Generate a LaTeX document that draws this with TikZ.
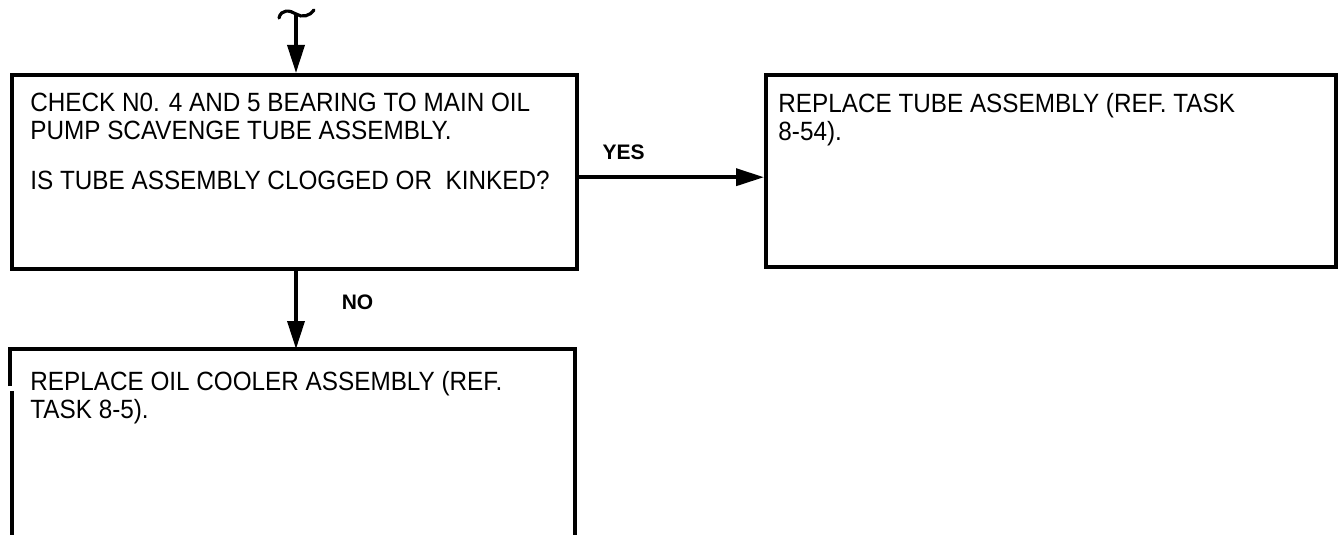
\documentclass[tikz,border=0pt]{standalone}
\usepackage{fontspec}
\setmainfont{Liberation Sans}[FakeStretch=0.92]
\newfontfamily\labelfont{Liberation Sans}
\usetikzlibrary{arrows.meta,calc,positioning}

\tikzset{
  flowbox/.style={draw, line width=2.2pt, inner sep=0pt, anchor=north west},
  boxtext/.style={anchor=north west, align=left, inner sep=0pt,
    font=\fontsize{13.2}{14}\selectfont},
  flowarrow/.style={line width=1.8pt, -{Triangle[length=14pt,width=8.5pt]}},
  answer/.style={font=\labelfont\bfseries\fontsize{10.5}{12}\selectfont, inner sep=0pt},
  boxline/.style={line width=2.2pt}
}

\begin{document}
\begin{tikzpicture}[x=0.5pt,y=-0.5pt]
  \useasboundingbox (0,0) rectangle (1339,535);
  \clip (0,0) rectangle (1339,535);

  % boxes
  \node[flowbox, minimum width=282.5pt, minimum height=97pt] (check) at (10,73) {};
  \node[flowbox, minimum width=285pt, minimum height=96pt] (tube) at (764,73) {};
  \node[anchor=north west, inner sep=0pt, minimum width=282pt, minimum height=100pt] (cooler) at (10,349) {};
  \draw[boxline] ($(cooler.north west)+(0,37)$) |- (cooler.north east) -- (cooler.south east);
  \draw[boxline] ($(cooler.north west)+(2,42)$) -- ($(cooler.south west)+(2,0)$);

  % texts
  \node[boxtext] (checktxt) at (30,93) {CHECK N0. 4 AND 5 BEARING TO MAIN OIL\\
    PUMP SCAVENGE TUBE ASSEMBLY.\\[11pt]
    IS TUBE ASSEMBLY CLOGGED OR~ KINKED?};
  \node[boxtext] (tubetxt) at (778,93) {REPLACE TUBE ASSEMBLY (REF. TASK\\8-54).};
  \node[boxtext] (coolertxt) at (30,371) {REPLACE OIL COOLER ASSEMBLY (REF.\\TASK 8-5).};

  % connectors
  \coordinate (start) at (296,14);
  \draw[line width=1.6pt, line cap=round] (279,18) .. controls (281,9) and (290,10) .. (296,14)
    .. controls (302,18) and (310,16) .. (314,10);
  \draw[flowarrow] (start) -- (start |- check.north);
  \draw[flowarrow] ([yshift=-2.5pt]check.east) -- ([yshift=-2.5pt]check.east -| tube.west)
    node[answer, pos=0.24, above=8pt] (yes) {YES};
  \draw[flowarrow] (start |- check.south) -- (start |- cooler.north)
    node[answer, pos=0.4, right=22pt] (no) {NO};
\end{tikzpicture}
\end{document}
